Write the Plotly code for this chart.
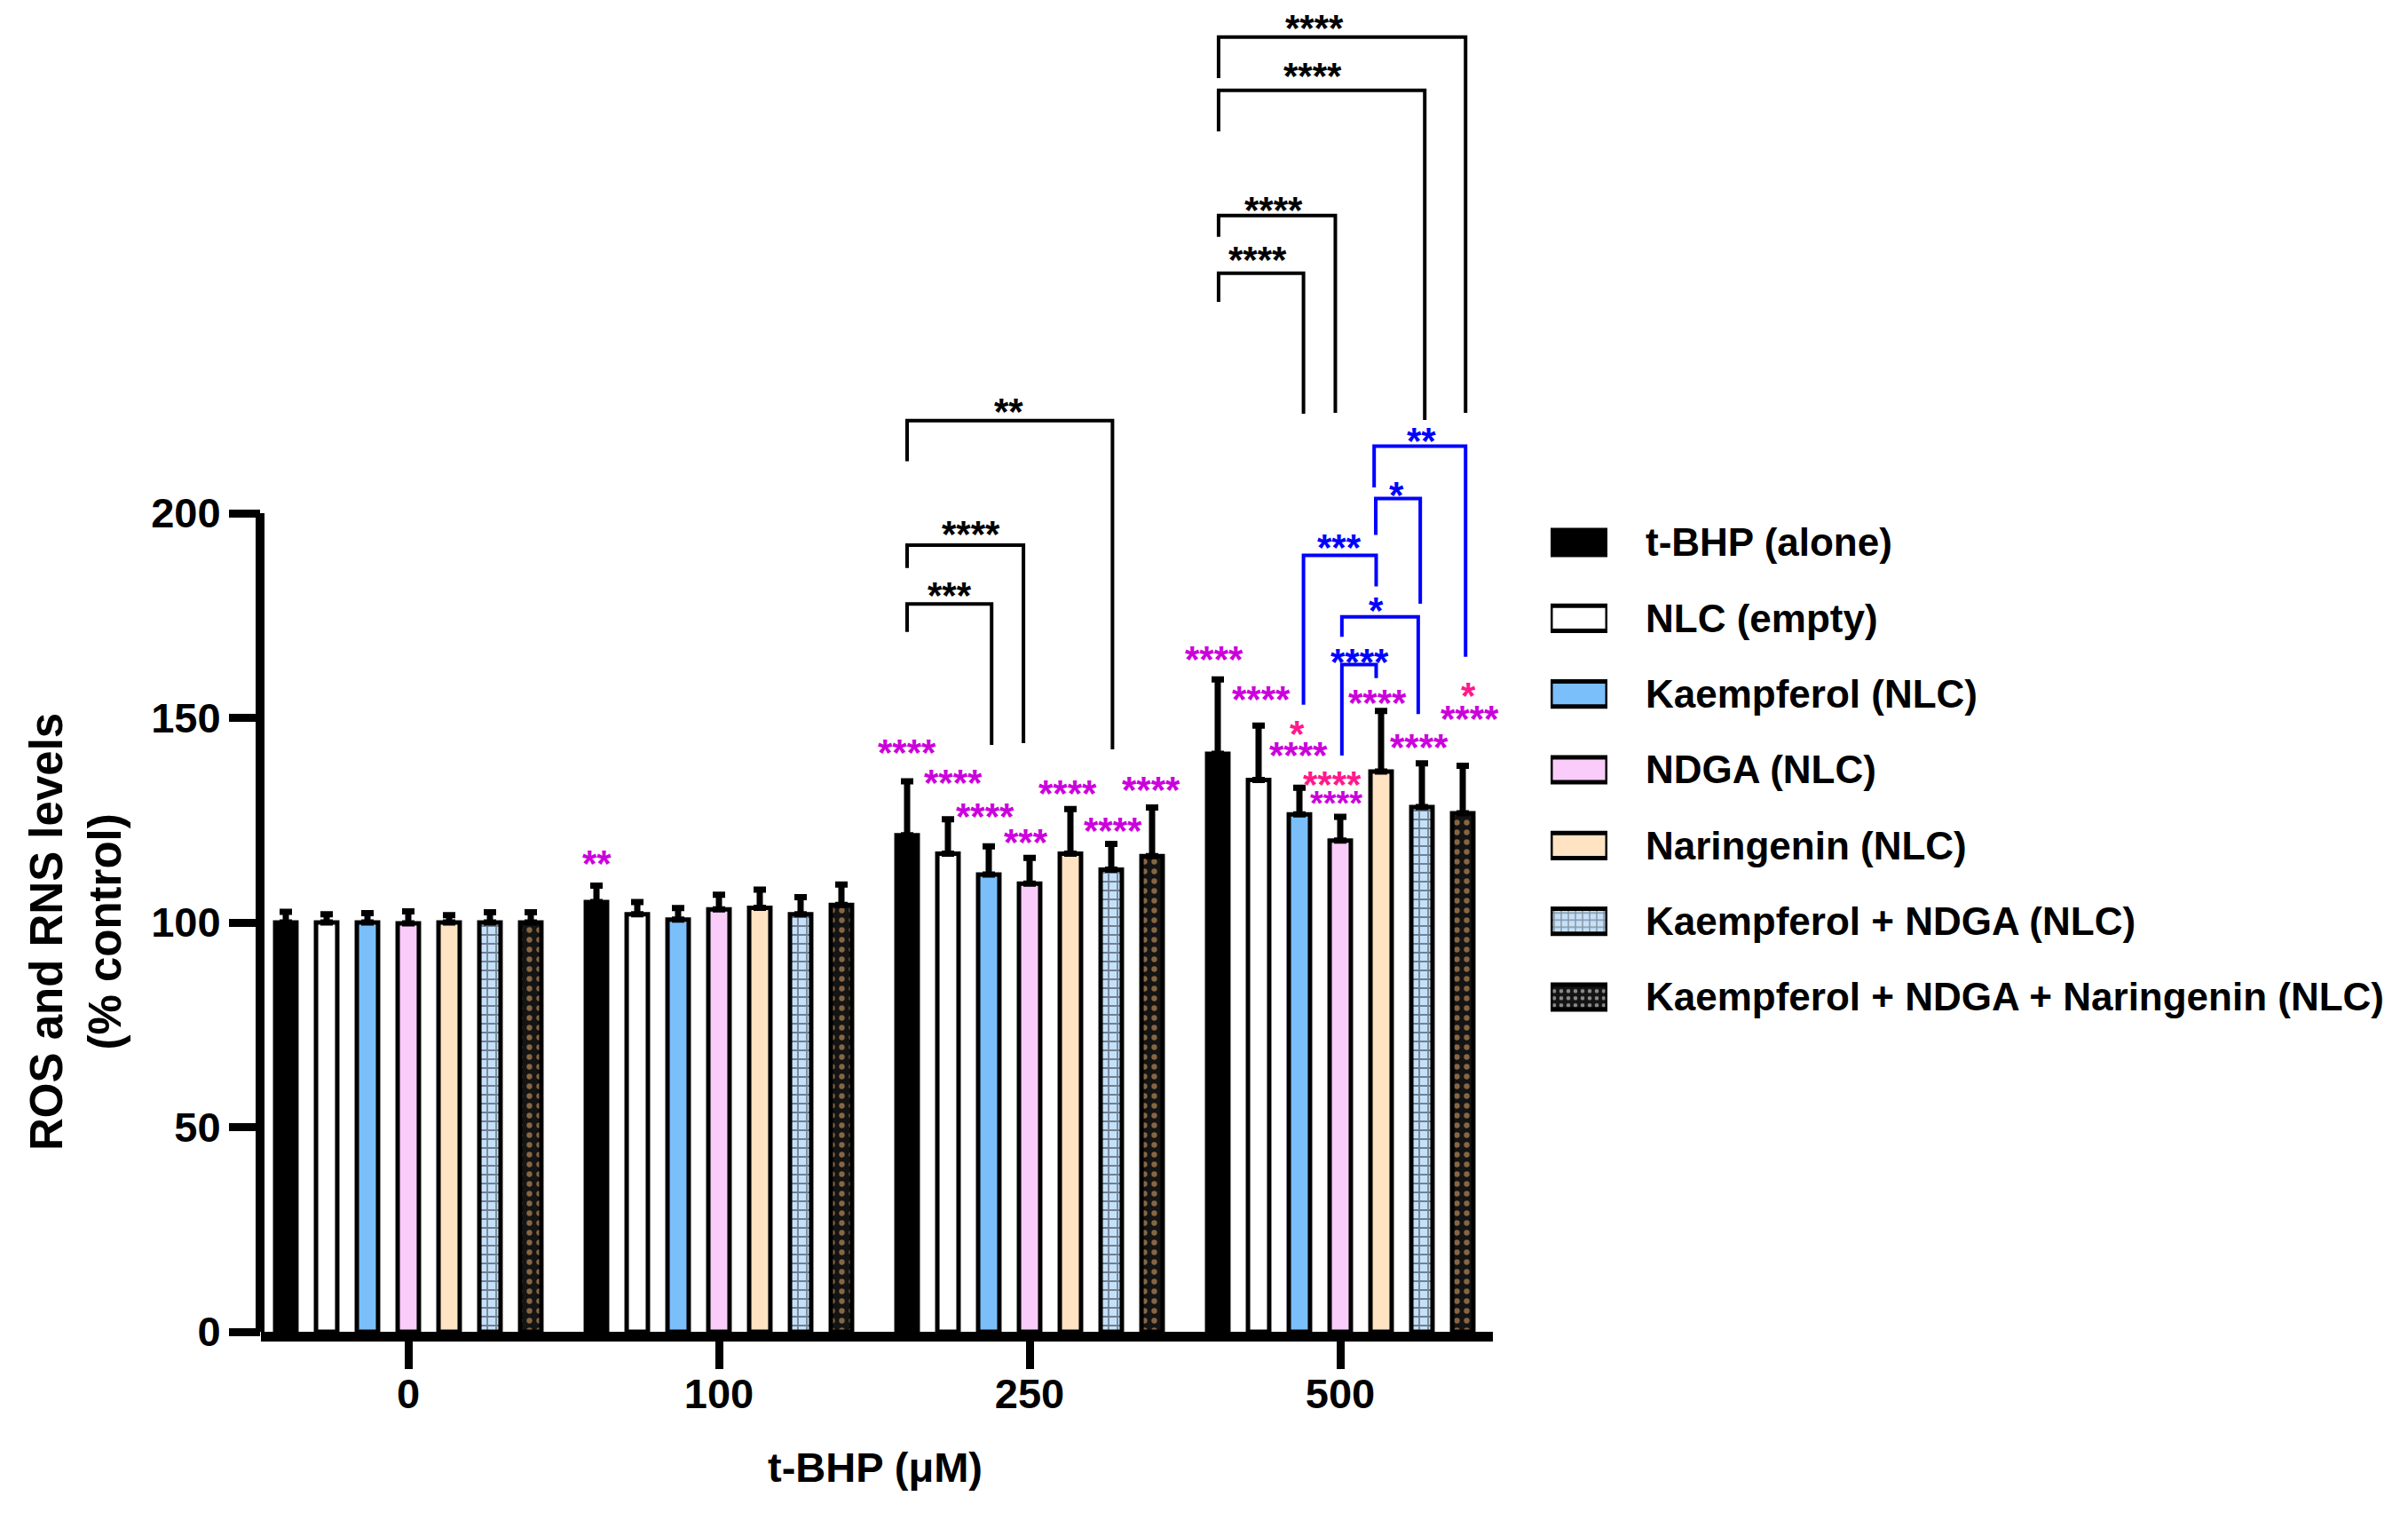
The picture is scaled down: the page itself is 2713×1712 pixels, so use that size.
import plotly.graph_objects as go

# ---------------- data ----------------
doses = ["0", "100", "250", "500"]
series = ["t-BHP (alone)", "NLC (empty)", "Kaempferol (NLC)", "NDGA (NLC)",
          "Naringenin (NLC)", "Kaempferol + NDGA (NLC)",
          "Kaempferol + NDGA + Naringenin (NLC)"]

tbhp = [100.0, 105.0, 121.3, 141.2]
nlc = [100.0, 102.0, 116.8, 134.8]
kaempferol = [100.0, 100.7, 111.7, 126.4]
ndga = [99.8, 103.2, 109.5, 120.0]
naringenin = [100.0, 103.6, 116.8, 136.9]
kae_ndga = [100.0, 102.0, 112.9, 128.2]
kae_ndga_nar = [100.0, 104.3, 116.2, 126.7]

tbhp_err = [2.6, 4.0, 13.2, 18.2]
nlc_err = [2.0, 3.0, 8.4, 13.3]
kaempferol_err = [2.3, 2.8, 6.9, 6.5]
ndga_err = [2.9, 3.6, 6.3, 5.8]
naringenin_err = [1.8, 4.4, 10.9, 14.8]
kae_ndga_err = [2.5, 4.2, 6.3, 10.7]
kae_ndga_nar_err = [2.5, 5.0, 11.9, 11.6]

means = [tbhp, nlc, kaempferol, ndga, naringenin, kae_ndga, kae_ndga_nar]
errors = [tbhp_err, nlc_err, kaempferol_err, ndga_err, naringenin_err,
          kae_ndga_err, kae_ndga_nar_err]

y_ticks = [0, 50, 100, 150, 200]

# per-bar significance marks: (dose index, series position, text, colour key, y)
bar_marks = [
    (1, 0.0, "**", "m", 116.2),
    (2, 0.0, "****", "m", 143.2),
    (2, 1.12, "****", "m", 135.9),
    (2, 1.91, "****", "m", 127.6),
    (2, 2.91, "***", "m", 121.4),
    (2, 3.93, "****", "m", 133.2),
    (2, 5.04, "****", "m", 124.1),
    (2, 5.97, "****", "m", 134.1),
    (3, -0.09, "****", "m", 166.0),
    (3, 1.06, "****", "m", 156.4),
    (3, 1.95, "*", "r", 147.9),
    (3, 1.98, "****", "m", 142.6),
    (3, 2.80, "****", "r", 135.5),
    (3, 2.91, "****", "ms", 130.8),
    (3, 3.91, "****", "m", 155.5),
    (3, 4.93, "****", "m", 144.5),
    (3, 6.14, "*", "r", 157.2),
    (3, 6.18, "****", "m", 151.5),
]

# comparison brackets: (dose, left pos, right pos, y line, y left end, y right end,
#                       text, colour key, text pos, text y)
brackets = [
    (2, 0.0, 2.07, 177.8, 171.0, 143.4, "***", "k", 1.04, 181.6),
    (2, 0.0, 2.85, 192.2, 186.6, 143.8, "****", "k", 1.57, 196.7),
    (2, 0.0, 5.03, 222.6, 212.7, 142.3, "**", "k", 2.49, 226.5),
    (3, 0.02, 6.07, 316.3, 306.3, 224.5, "****", "k", 2.37, 320.2),
    (3, 0.02, 5.07, 303.3, 293.3, 222.8, "****", "k", 2.33, 308.5),
    (3, 0.02, 2.88, 272.7, 267.5, 224.5, "****", "k", 1.37, 275.9),
    (3, 0.02, 2.10, 258.6, 251.6, 224.3, "****", "k", 0.97, 263.6),
    (3, 3.83, 6.07, 216.4, 206.3, 164.9, "**", "b", 4.99, 219.5),
    (3, 3.87, 4.96, 203.6, 194.7, 177.9, "*", "b", 4.38, 206.1),
    (3, 2.10, 3.88, 189.7, 153.2, 182.1, "***", "b", 2.98, 193.4),
    (3, 3.04, 4.91, 174.7, 169.8, 150.9, "*", "b", 3.88, 177.9),
    (3, 3.04, 3.88, 163.0, 140.8, 159.7, "****", "b", 3.48, 165.4),
]

# ---------------- styles ----------------
W, H = 2713, 1712
OFF = 8  # page body margin of the html page
FONT = "Liberation Sans"
fills = ["#000000", "#ffffff", "#7bbffa", "#f9ccf9", "#ffe3c2", "#c5e1fa", "#141414"]
pat_shape = ["", "", "", "", "", "+", "."]
pat_fg = ["#000000", "#000000", "#000000", "#000000", "#000000", "#1c2029", "#f9b872"]
pat_size = [10, 10, 10, 10, 10, 10, 11]
pat_sol = [0.3, 0.3, 0.3, 0.3, 0.3, 0.32, 0.26]
mark_colors = {"m": "#cc00dd", "ms": "#cc00dd", "r": "#ff1a8c", "b": "#0000ff", "k": "#000000"}

BARGAP = 0.08
SLOT = (1 - BARGAP) / len(series)

def xpos(g, s):
    return g + (s - 3) * SLOT

fig = go.Figure()
for i, name in enumerate(series):
    fig.add_trace(go.Bar(
        x=list(range(len(doses))), y=means[i], name=name, showlegend=False,
        marker=dict(color=fills[i], line=dict(color="#000000", width=5),
                    pattern=dict(shape=pat_shape[i], fgcolor=pat_fg[i], bgcolor=fills[i],
                                 size=pat_size[i], solidity=pat_sol[i], fillmode="overlay")),
        error_y=dict(type="data", array=errors[i], arrayminus=[0] * len(doses),
                     symmetric=False, color="#000000", thickness=7, width=7),
    ))

# legend swatches drawn as bars on their own small axes
fig.add_trace(go.Bar(
    x=[1] * len(series), y=series, orientation="h", width=0.33, showlegend=False,
    xaxis="x2", yaxis="y2",
    marker=dict(color=fills, line=dict(color="#000000", width=5),
                pattern=dict(shape=pat_shape, fgcolor=pat_fg, bgcolor=fills,
                             size=[8] * 7, solidity=pat_sol, fillmode="overlay")),
))

# plot geometry (pixels)
x_left_px, x_right_px = 294 - OFF, 1682 - OFF
y0_px, y200_px = 1500 - OFF, 578 - OFF
ppu = (y0_px - y200_px) / 200.0
ymax = y0_px / ppu
grp_px = 350.0
g0_px = 460.0 - OFF
xr = [(x_left_px - g0_px) / grp_px, (x_right_px - g0_px) / grp_px]

shapes = []
annotations = []
YS = -8
for (g, s, txt, ck, y) in bar_marks:
    annotations.append(dict(x=xpos(g, s), y=y, xref="x", yref="y", text=txt,
                            showarrow=False, yanchor="middle", yshift=YS,
                            font=dict(family=FONT, size=38 if ck == "ms" else 42,
                                      color=mark_colors[ck], weight="bold")))

for (g, sl, sr, yl, ylb, yrb, txt, ck, st, yt) in brackets:
    xl, xr_ = xpos(g, sl), xpos(g, sr)
    shapes.append(dict(type="path", xref="x", yref="y",
                       path=f"M{xl},{ylb} L{xl},{yl} L{xr_},{yl} L{xr_},{yrb}",
                       line=dict(color=mark_colors[ck], width=4)))
    annotations.append(dict(x=xpos(g, st), y=yt, xref="x", yref="y", text=txt,
                            showarrow=False, yanchor="middle", yshift=YS,
                            font=dict(family=FONT, size=42, color=mark_colors[ck],
                                      weight="bold")))

# y axis line only up to 200
shapes.append(dict(type="line", xref="paper", yref="y",
                   x0=(293 - OFF) / W, x1=(293 - OFF) / W,
                   y0=0, y1=200, line=dict(color="#000000", width=10)))

annotations.append(dict(x=(85 - OFF) / W, y=(y0_px - (1050 - OFF)) / y0_px,
                        xref="paper", yref="paper",
                        text="ROS and RNS levels<br>(% control)", textangle=-90,
                        showarrow=False, xanchor="center", yanchor="middle",
                        font=dict(family=FONT, size=51, color="#000000", weight="bold")))
annotations.append(dict(x=(986 - OFF) / W, y=(y0_px - (1653 - OFF)) / y0_px,
                        xref="paper", yref="paper",
                        text="t-BHP (μM)", showarrow=False, xanchor="center",
                        yanchor="middle",
                        font=dict(family=FONT, size=47, color="#000000", weight="bold")))

leg_top, leg_bot = 568.3 - OFF, 1165.7 - OFF

fig.update_layout(
    width=W, height=H, margin=dict(l=0, r=0, t=0, b=H - y0_px, pad=0),
    paper_bgcolor="#ffffff", plot_bgcolor="#ffffff",
    barmode="group", bargap=BARGAP, bargroupgap=0.48,
    showlegend=False,
    xaxis=dict(domain=[x_left_px / W, x_right_px / W], range=xr,
               tickvals=list(range(len(doses))), ticktext=doses,
               showline=True, linewidth=11, linecolor="#000000",
               ticks="outside", ticklen=31, tickwidth=9, tickcolor="#000000",
               showgrid=False, zeroline=False, ticklabelstandoff=-12,
               tickfont=dict(family=FONT, size=47, color="#000000", weight="bold")),
    yaxis=dict(domain=[0, 1], range=[0, ymax], tickvals=y_ticks,
               showline=False, ticks="outside", ticklen=35, tickwidth=9,
               tickcolor="#000000", showgrid=False, zeroline=False,
               ticklabelstandoff=0,
               tickfont=dict(family=FONT, size=47, color="#000000", weight="bold")),
    xaxis2=dict(domain=[(1747 - OFF) / W, (1811 - OFF) / W], range=[0, 1], visible=False,
                anchor="y2", fixedrange=True),
    yaxis2=dict(domain=[(y0_px - leg_bot) / y0_px, (y0_px - leg_top) / y0_px],
                type="category", categoryorder="array", categoryarray=series,
                range=[len(series) - 0.5, -0.5], anchor="x2", side="right",
                showline=False, showgrid=False, zeroline=False, ticks="",
                ticklabelstandoff=42,
                tickfont=dict(family=FONT, size=44, color="#000000", weight="bold")),
    shapes=shapes, annotations=annotations,
)

fig.write_html("out.html")
